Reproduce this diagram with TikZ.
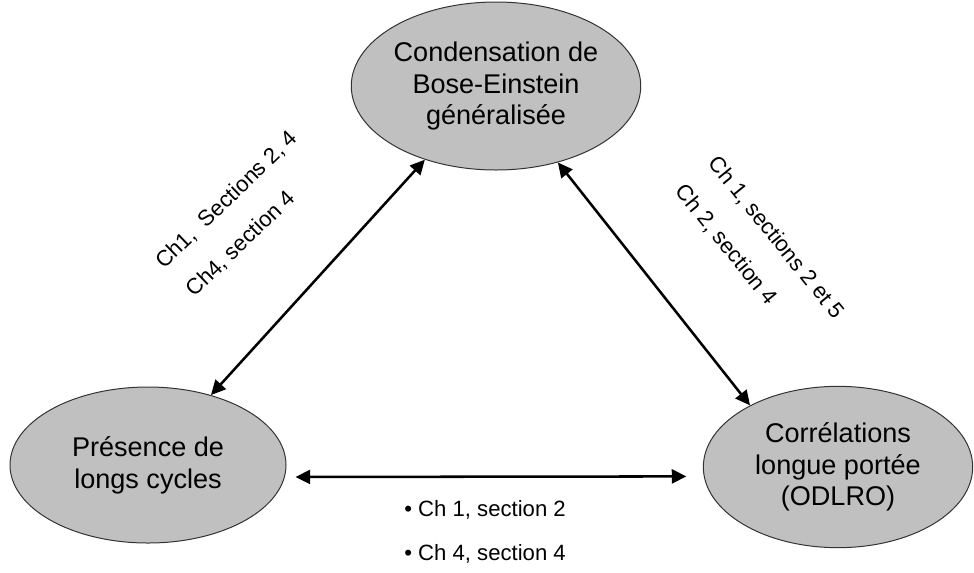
\documentclass[tikz,border=0pt]{standalone}
\usepackage{fontspec}
\setmainfont{Liberation Sans}
\usetikzlibrary{shapes.geometric,arrows.meta}
\definecolor{bubblefill}{RGB}{192,192,192}
\begin{document}
\begin{tikzpicture}[x=0.75pt,y=-0.75pt,
  bubble/.style={ellipse, draw=black!80, fill=bubblefill, line width=0.75pt,
    inner sep=0pt, align=center, font=\fontsize{20.3}{23.8}\selectfont},
  link/.style={line width=1.9pt, {Triangle[length=11pt,width=10.5pt]}-{Triangle[length=11pt,width=10.5pt]}},
  lbl/.style={font=\fontsize{16.6}{20}\selectfont, inner sep=0pt}]
\useasboundingbox (0,0) rectangle (974,572);
\node[bubble, minimum width=207pt, minimum height=126pt] (top) at (496,86)
  {Condensation de\\Bose-Einstein\\généralisée};
\node[bubble, minimum width=207pt, minimum height=117pt] (left) at (148,465)
  {Présence de\\longs cycles};
\node[bubble, minimum width=202pt, minimum height=121pt] (right) at (838,467)
  {Corrélations\\longue portée\\(ODLRO)};
\draw[link] (top.-134) -- (left.48);
\draw[link] (top.-51) -- (right.145);
\draw[link, shorten <=8pt, shorten >=13pt] (left.-5) -- (right.184);
\node[lbl, rotate=44] (l1) at (227,200) {Ch1,\ \ Sections 2, 4};
\node[lbl, rotate=44] (l2) at (241,244) {Ch4, section 4};
\node[lbl, rotate=-51] (r1) at (776,238) {Ch 1, sections 2 et 5};
\node[lbl, rotate=-51] (r2) at (726,245) {Ch 2, section 4};
\node[lbl, anchor=base west] (b1) at (404,516) {• Ch 1, section 2};
\node[lbl, anchor=base west] (b2) at (404,560) {• Ch 4, section 4};
\end{tikzpicture}
\end{document}
